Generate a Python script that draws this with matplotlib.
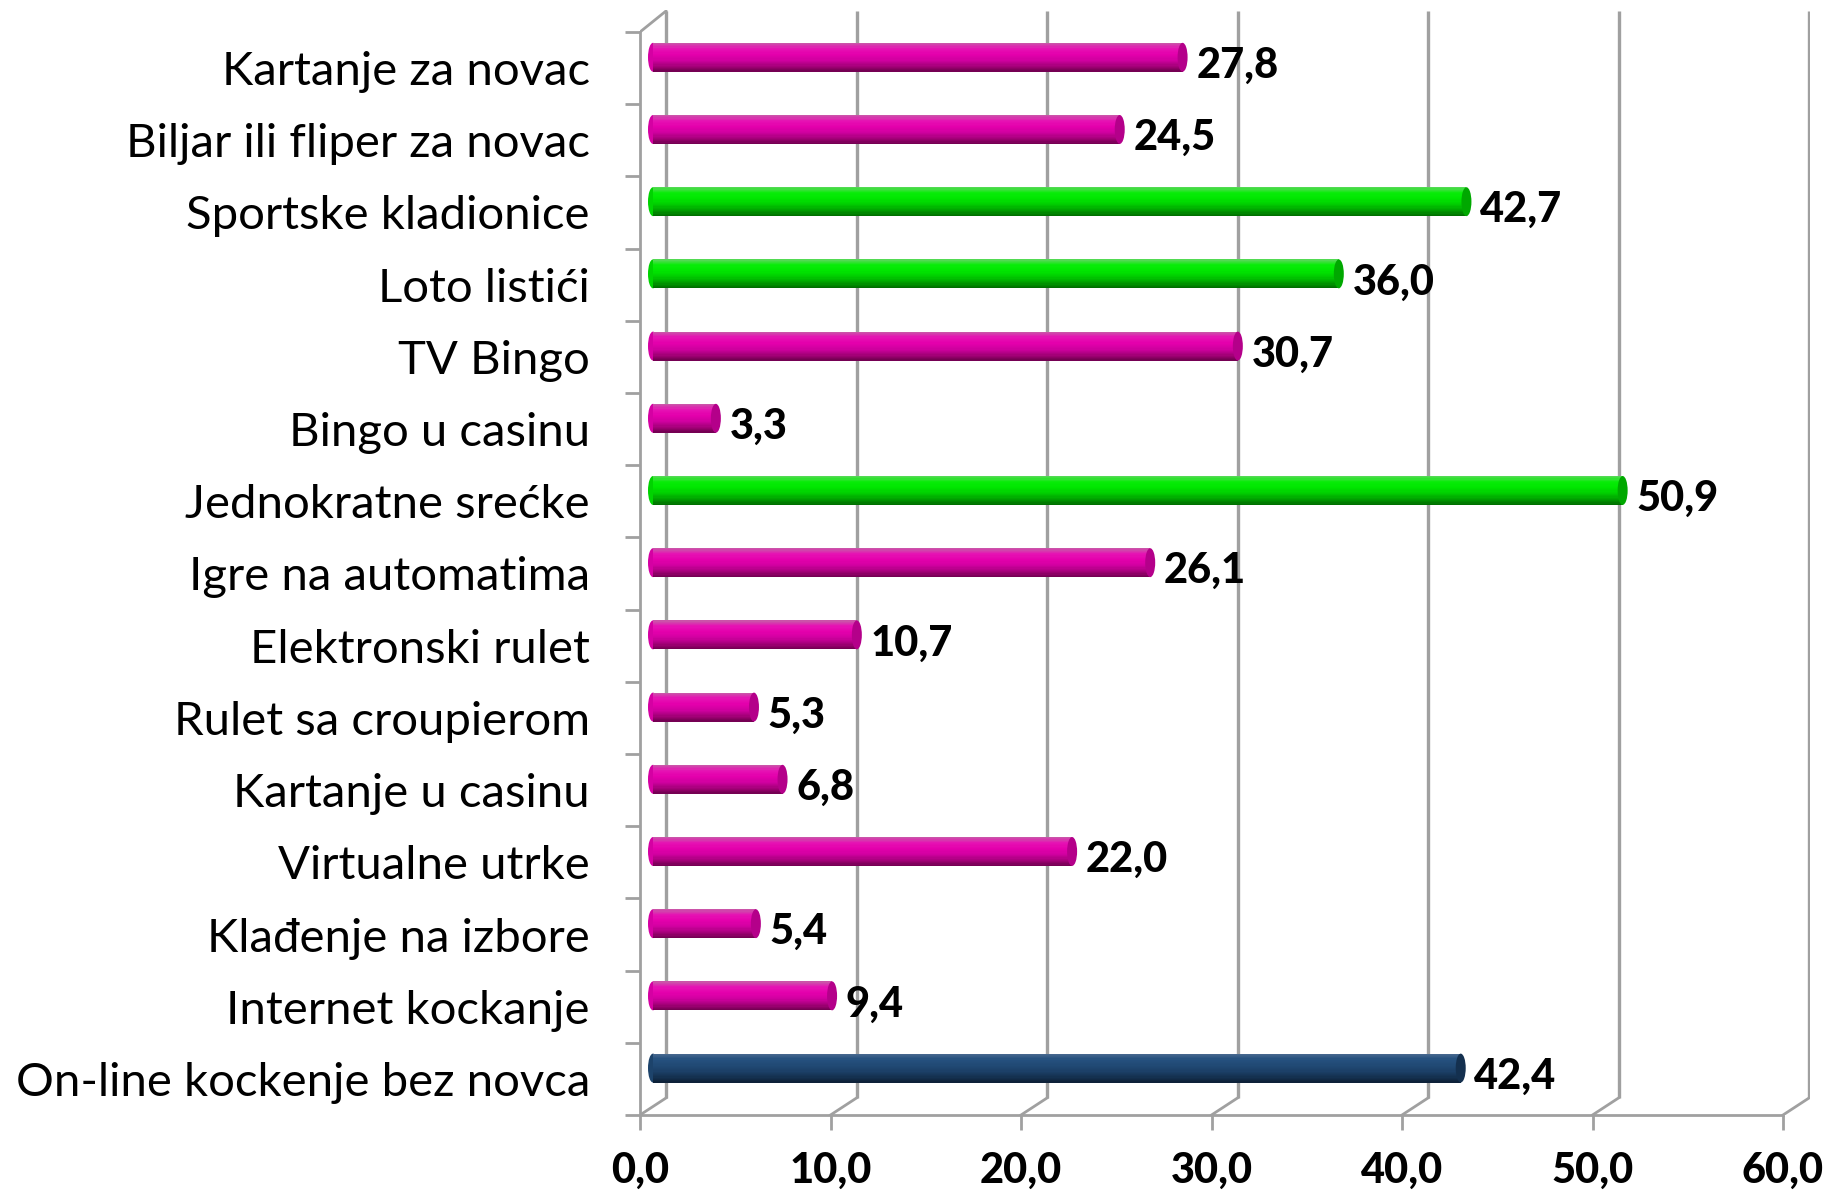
import matplotlib
matplotlib.use("Agg")
import matplotlib.pyplot as plt
from matplotlib.patches import Ellipse
import matplotlib.colors as mcolors
import numpy as np

categories = [
    "Kartanje za novac",
    "Biljar ili fliper za novac",
    "Sportske kladionice",
    "Loto listići",
    "TV Bingo",
    "Bingo u casinu",
    "Jednokratne srećke",
    "Igre na automatima",
    "Elektronski rulet",
    "Rulet sa croupierom",
    "Kartanje u casinu",
    "Virtualne utrke",
    "Klađenje na izbore",
    "Internet kockanje",
    "On-line kockenje bez novca",
]
values = [27.8, 24.5, 42.7, 36.0, 30.7, 3.3, 50.9, 26.1, 10.7, 5.3, 6.8, 22.0, 5.4, 9.4, 42.4]
groups = ["m", "m", "g", "g", "m", "m", "g", "m", "m", "m", "m", "m", "m", "m", "n"]
xticks = [0, 10, 20, 30, 40, 50, 60]
xticklabels = ["0,0", "10,0", "20,0", "30,0", "40,0", "50,0", "60,0"]

# colour profiles (top -> bottom of cylinder) and end-cap colour
profiles = {
    "m": (["#c85aa8", "#e612b4", "#e400ac", "#d000a0", "#a8007c", "#70004e"], "#b4008a"),
    "g": (["#5ad85a", "#08ec08", "#00e600", "#00cc00", "#00a000", "#006a00"], "#00a800"),
    "n": (["#4a6a90", "#25507e", "#214a75", "#1c4068", "#153252", "#0c1f36"], "#14304f"),
}

W, H = 1833, 1200
fig = plt.figure(figsize=(W / 100, H / 100), dpi=100)

px_x = 19.05   # pixels per x unit
px_y = 72.2    # pixels per category
x0_px, floor_px = 640, 1115
xmax = 61.4
ytop = -0.80
ax = fig.add_axes([x0_px / W, (H - floor_px) / H,
                   xmax * px_x / W, (14.5 - ytop) * px_y / H])
ax.set_xlim(0, xmax)
ax.set_ylim(14.5, ytop)

grid_c = "#a0a0a0"
dxd = 26 / px_x
dy_top = -21 / px_y
dy_bot = -17 / px_y

# back wall verticals + floor diagonals
for v in xticks:
    ax.plot([v + dxd, v + dxd], [14.5 + dy_bot, -0.5 + dy_top], color=grid_c, lw=2.4,
            solid_capstyle="butt", zorder=1)
    ax.plot([v, v + dxd], [14.5, 14.5 + dy_bot], color=grid_c, lw=2.0, zorder=1)
# left wall top diagonal
ax.plot([0, dxd], [-0.5, -0.5 + dy_top], color=grid_c, lw=2.0, zorder=1)

# spines
for s in ["top", "right"]:
    ax.spines[s].set_visible(False)
ax.spines["left"].set_bounds(-0.5, 14.5)
ax.spines["bottom"].set_bounds(0, 60)
for s in ["left", "bottom"]:
    ax.spines[s].set_color(grid_c)
    ax.spines[s].set_linewidth(2.0)

ypos = np.arange(len(categories))
ax.set_yticks(ypos)
ax.set_yticklabels(categories, family="Lato", fontsize=34)
ax.set_yticks(np.arange(len(categories) + 1) - 0.5, minor=True)
ax.tick_params(axis="y", which="major", length=0, pad=36)
ax.tick_params(axis="y", which="minor", length=10.8, width=2.0, color=grid_c)
ax.set_xticks(xticks)
ax.set_xticklabels(xticklabels, family="Lato", fontweight="black", fontsize=30)
ax.tick_params(axis="x", which="major", length=10.8, width=2.0, color=grid_c, pad=16)

# bars (cylinders) at mid depth
bx = 13 / px_x
by = -0.15
th = 0.40
cap_w = 10 / px_x
nstrip = 24
for i, (v, g) in enumerate(zip(values, groups)):
    cols, capc = profiles[g]
    cmap = mcolors.LinearSegmentedColormap.from_list("c" + g, cols)
    yc = i + by
    # left rounded end
    ax.add_patch(Ellipse((bx, yc), cap_w, th, facecolor=cmap(0.55), edgecolor="none", zorder=3))
    for k in range(nstrip):
        t = (k + 0.5) / nstrip
        ys = yc - th / 2 + th * t
        ax.barh(ys, v, height=th / nstrip * 1.05, left=bx, color=cmap(t), edgecolor="none", zorder=4)
    # right end cap
    ax.add_patch(Ellipse((bx + v, yc), cap_w, th, facecolor=capc, edgecolor="none", zorder=5))
    ax.text(bx + v + cap_w / 2 + 0.45, yc + 0.12, f"{v:.1f}".replace(".", ","),
            family="Lato", fontweight="black", fontsize=30, va="center", ha="left", zorder=6)

fig.savefig("out.png", dpi=100)
